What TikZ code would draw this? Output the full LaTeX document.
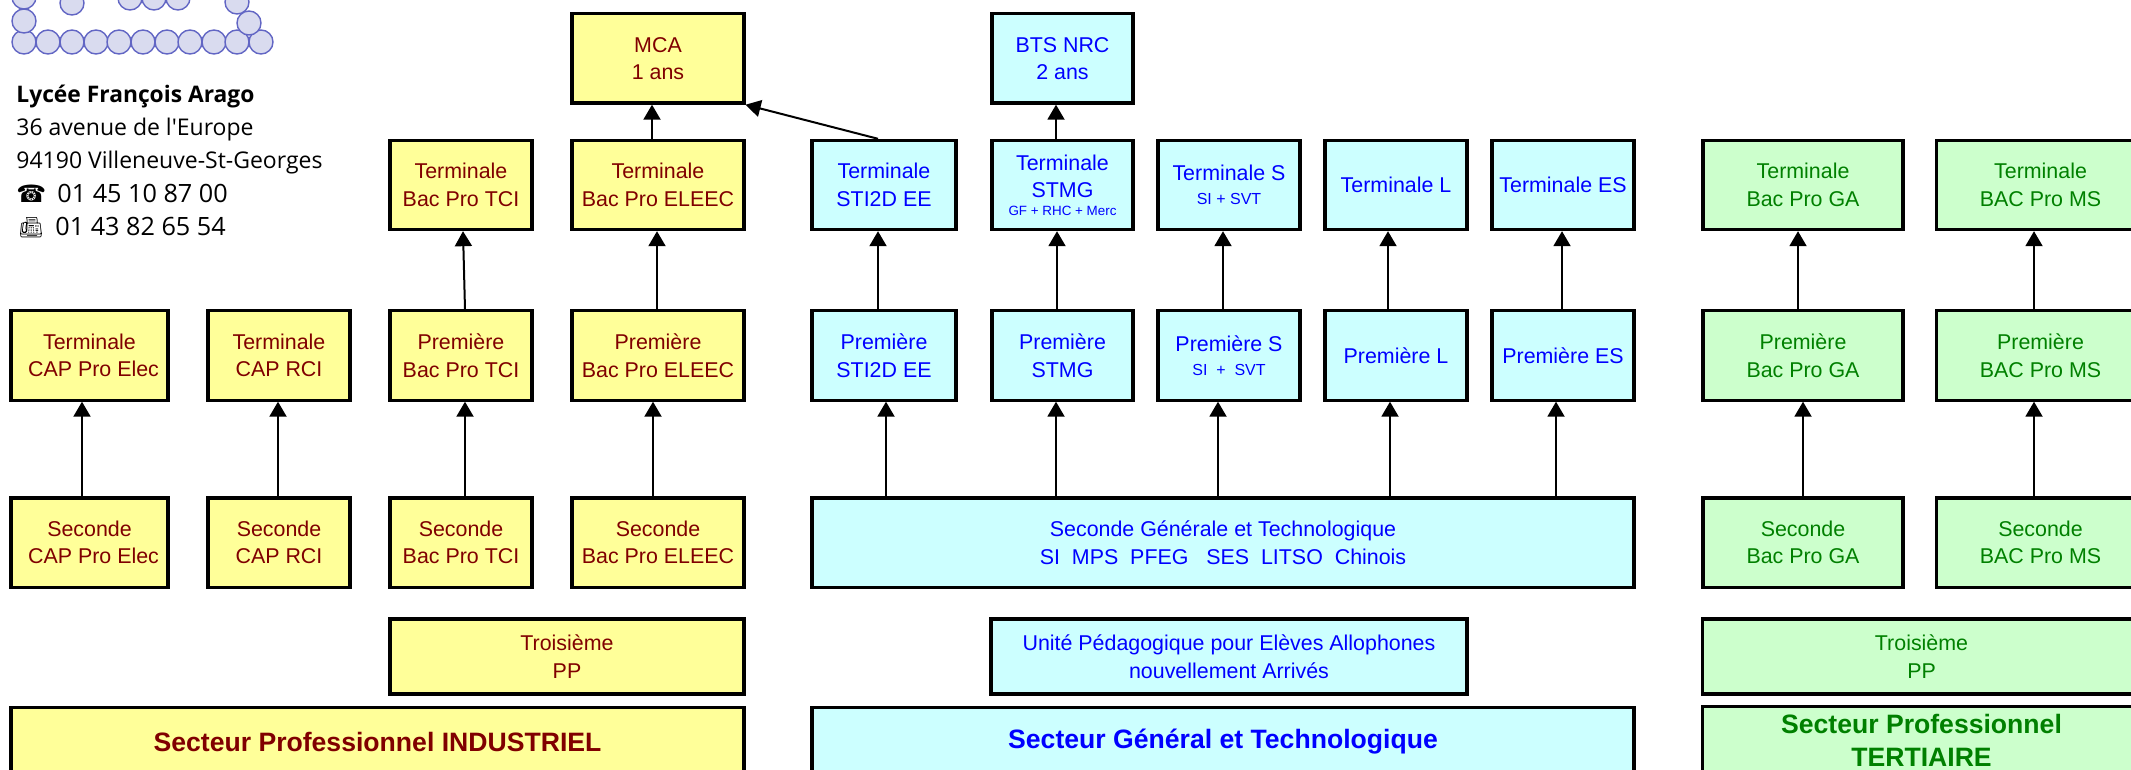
\documentclass[tikz,border=0pt]{standalone}
\usepackage{fontspec}
\setmainfont{Liberation Sans}
\newfontfamily\lyceefont{Open Sans}
\newfontfamily\phonefont{DejaVu Sans}
\newfontfamily\faxfont{Noto Emoji}
\usetikzlibrary{arrows.meta}
\definecolor{boxyellow}{HTML}{FFFF99}
\definecolor{boxcyan}{HTML}{CCFFFF}
\definecolor{boxgreen}{HTML}{CCFFCC}
\definecolor{textred}{HTML}{800000}
\definecolor{textgreen}{HTML}{008000}
\definecolor{logofill}{HTML}{D9DBEF}
\definecolor{logoline}{HTML}{6266C4}
\tikzset{
  classbox/.style={draw=black, line width=1.6pt, align=center, inner sep=0pt,
    xshift=0.25pt, yshift=-0.5pt,
    minimum height=44.6pt, font=\fontsize{10.7}{13.8}\selectfont},
  yellowbox/.style={classbox, fill=boxyellow, text=textred},
  cyanbox/.style={classbox, fill=boxcyan, text=blue},
  greenbox/.style={classbox, fill=boxgreen, text=textgreen},
  lowbox/.style={minimum height=37.5pt},
  sectorbox/.style={minimum height=34pt, font=\fontsize{13.3}{16.8}\selectfont\bfseries},
  flow/.style={line width=1pt, -{Triangle[width=8.5pt,length=7.5pt]}},
  lycee/.style={anchor=base west, inner sep=0pt, font=\lyceefont\fontsize{11.5}{12}\selectfont},
  logoball/.style={draw=logoline, fill=logofill, line width=0.7pt}
}
\newcommand{\smalltext}[1]{{\fontsize{8}{9}\selectfont #1}}
\begin{document}
\begin{tikzpicture}[x=0.5pt,y=-0.5pt]
    \clip[use as bounding box] (0,0) rectangle (2131,770);
    % Logo
    \foreach \x/\y in {24/42,48/42,72/42,96/42,119/42,143/42,167/42,190/42,214/42,237/42,261/42,
                       24/21,249/23,24/-3,72/3,130/-2,154/-2,178/-2,237/2}
      \draw[logoball] (\x,\y) circle (12);
    % Address
    \node[lycee, font=\lyceefont\fontsize{11.4}{12}\selectfont\bfseries] (name) at (16,103) {Lycée François Arago};
    \node[lycee] (street) at (16,136) {36 avenue de l'Europe};
    \node[lycee] (town) at (16,169) {94190 Villeneuve-St-Georges};
    \node[lycee, font=\phonefont\fontsize{12}{12}\selectfont] (phoneicon) at (16,203) {☎};
    \node[lycee, font=\lyceefont\fontsize{12.6}{12}\selectfont] (phone) at (57,203) {01 45 10 87 00};
    \node[lycee, font=\faxfont\fontsize{10}{12}\selectfont] (faxicon) at (18,235) {📠};
    \node[lycee, font=\lyceefont\fontsize{12.6}{12}\selectfont] (fax) at (55,236) {01 43 82 65 54};
    % Secteur industriel
    \node[yellowbox, minimum width=86pt] (mca) at (657.5,57.5) {MCA\\1 ans};
    \node[yellowbox, minimum width=71pt] (termtci) at (460.5,184) {Terminale\\Bac Pro TCI};
    \node[yellowbox, minimum width=86pt] (termeleec) at (657.5,184) {Terminale\\Bac Pro ELEEC};
    \node[yellowbox, minimum width=78.5pt] (termelec) at (89,354.5) {Terminale\\\hspace*{4pt}CAP Pro Elec};
    \node[yellowbox, minimum width=71pt] (termrci) at (278.5,354.5) {Terminale\\CAP RCI};
    \node[yellowbox, minimum width=71pt] (premtci) at (460.5,354.5) {Première\\Bac Pro TCI};
    \node[yellowbox, minimum width=86pt] (premeleec) at (657.5,354.5) {Première\\Bac Pro ELEEC};
    \node[yellowbox, minimum width=78.5pt] (secelec) at (89,541.5) {Seconde\\\hspace*{4pt}CAP Pro Elec};
    \node[yellowbox, minimum width=71pt] (secrci) at (278.5,541.5) {Seconde\\CAP RCI};
    \node[yellowbox, minimum width=71pt] (sectci) at (460.5,541.5) {Seconde\\Bac Pro TCI};
    \node[yellowbox, minimum width=86pt] (seceleec) at (657.5,541.5) {Seconde\\Bac Pro ELEEC};
    \node[yellowbox, lowbox, minimum width=177pt] (troisind) at (566.5,655.5) {Troisième\\PP};
    \node[yellowbox, sectorbox, minimum width=366.5pt] (secteurind) at (377,740.5) {\raisebox{-1.5pt}{Secteur Professionnel INDUSTRIEL}};
    % Secteur general
    \node[cyanbox, minimum width=70.5pt] (bts) at (1062,57.5) {BTS NRC\\2 ans};
    \node[cyanbox, minimum width=72pt] (termsti) at (883.5,184) {Terminale\\STI2D EE};
    \node[cyanbox, minimum width=70.5pt] (termstmg) at (1062,184) {Terminale\\STMG\\[-5pt]{\fontsize{6.7}{8}\selectfont GF + RHC + Merc}};
    \node[cyanbox, minimum width=71pt] (terms) at (1228.5,184) {Terminale S\\[-1.5pt]\smalltext{SI + SVT}};
    \node[cyanbox, minimum width=71pt] (terml) at (1395.5,184) {Terminale L};
    \node[cyanbox, minimum width=71pt] (termes) at (1562.5,184) {Terminale ES};
    \node[cyanbox, minimum width=72pt] (premsti) at (883.5,354.5) {Première\\STI2D EE};
    \node[cyanbox, minimum width=70.5pt] (premstmg) at (1062,354.5) {Première\\STMG};
    \node[cyanbox, minimum width=71pt] (prems) at (1228.5,354.5) {Première S\\[-1.5pt]\smalltext{SI~~+~~SVT}};
    \node[cyanbox, minimum width=71pt] (preml) at (1395.5,354.5) {Première L};
    \node[cyanbox, minimum width=71pt] (premes) at (1562.5,354.5) {Première ES};
    \node[cyanbox, minimum width=411pt] (secgt) at (1222.5,541.5) {Seconde Générale et Technologique\\SI~~MPS~~PFEG~~~SES~~LITSO~~Chinois};
    \node[cyanbox, lowbox, minimum width=238pt] (upe) at (1228.5,655.5) {Unité Pédagogique pour Elèves Allophones\\nouvellement Arrivés};
    \node[cyanbox, sectorbox, minimum width=411pt] (secteurgen) at (1222.5,740.5) {\raisebox{-2.5pt}{Secteur Général et Technologique}};
    % Secteur tertiaire
    \node[greenbox, minimum width=100pt] (termga) at (1802.5,184) {Terminale\\Bac Pro GA};
    \node[greenbox, minimum width=104pt] (termms) at (2040,184) {Terminale\\BAC Pro MS};
    \node[greenbox, minimum width=100pt] (premga) at (1802.5,354.5) {Première\\Bac Pro GA};
    \node[greenbox, minimum width=104pt] (premms) at (2040,354.5) {Première\\BAC Pro MS};
    \node[greenbox, minimum width=100pt] (secga) at (1802.5,541.5) {Seconde\\Bac Pro GA};
    \node[greenbox, minimum width=104pt] (secms) at (2040,541.5) {Seconde\\BAC Pro MS};
    \node[greenbox, lowbox, minimum width=219pt] (troister) at (1921,655.5) {Troisième\\PP};
    \node[greenbox, sectorbox, minimum width=219pt] (secteurter) at (1921,739.5) {Secteur Professionnel\\TERTIAIRE};
    % Arrows
    \foreach \a/\b/\x in {secelec/termelec/82, secrci/termrci/278, sectci/premtci/465,
        seceleec/premeleec/653, secgt/premsti/886, secgt/premstmg/1056, secgt/prems/1218,
        secgt/preml/1390, secgt/premes/1556, secga/premga/1803, secms/premms/2034,
        premeleec/termeleec/657, premsti/termsti/878, premstmg/termstmg/1057,
        prems/terms/1223, preml/terml/1388, premes/termes/1562, premga/termga/1798,
        premms/termms/2034, termeleec/mca/652, termstmg/bts/1056}
      \draw[flow] (\a.north -| \x,0) -- (\b.south -| \x,0);
    \draw[flow] (premtci.north -| 465,0) -- (termtci.south -| 463,0);
    \draw[flow] (termsti.north -| 878,0) -- (mca.south east);
\end{tikzpicture}
\end{document}
